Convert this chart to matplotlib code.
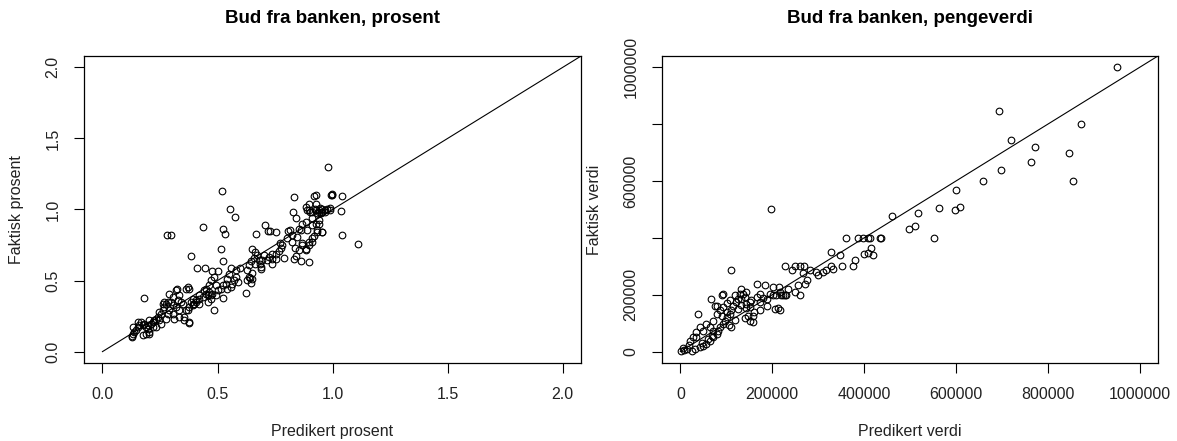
import matplotlib
matplotlib.use("Agg")
import matplotlib.pyplot as plt

plt.rcParams['font.family'] = ['Liberation Sans', 'DejaVu Sans']

# Venstre panel: predikert vs faktisk prosent
pred_prosent = [
    0.52, 0.555, 0.575, 0.435, 0.28, 0.296, 0.522, 0.532, 0.514, 0.522,
    0.383, 0.413, 0.446, 0.478, 0.501, 0.182, 0.484, 0.376, 0.623, 0.646,
    0.652, 0.688, 0.686, 0.666, 0.705, 0.718, 0.73, 0.756, 0.806, 0.831,
    0.826, 0.839, 0.918, 0.926, 0.994, 0.996, 0.998, 1.042, 1.037, 1.042,
    1.11, 0.897, 0.864, 0.832, 0.84, 0.788, 0.767, 0.775, 0.782, 0.771,
    0.736, 0.738, 0.753, 0.979, 0.955, 0.94, 0.933, 0.918, 0.911, 0.897,
    0.883, 0.868, 0.861, 0.89, 0.904, 0.926, 0.94, 0.955, 0.969, 0.991,
    0.948, 0.911, 0.883, 0.897, 0.912, 0.923, 0.934, 0.941, 0.955, 0.967,
    0.977, 0.987, 0.941, 0.926, 0.912, 0.89, 0.934, 0.955, 0.912, 0.897,
    0.883, 0.868, 0.854, 0.847, 0.854, 0.868, 0.825, 0.825, 0.837, 0.803,
    0.814, 0.897, 0.929, 0.944, 0.883, 0.652, 0.662, 0.673, 0.659, 0.645,
    0.637, 0.681, 0.695, 0.702, 0.717, 0.724, 0.736, 0.753, 0.688, 0.663,
    0.64, 0.63, 0.652, 0.579, 0.572, 0.587, 0.565, 0.558, 0.551, 0.543,
    0.536, 0.522, 0.514, 0.50, 0.493, 0.486, 0.471, 0.464, 0.449, 0.522,
    0.543, 0.558, 0.597, 0.579, 0.63, 0.637, 0.442, 0.449, 0.457, 0.464,
    0.471, 0.435, 0.421, 0.406, 0.399, 0.392, 0.384, 0.37, 0.363, 0.374,
    0.322, 0.319, 0.334, 0.327, 0.305, 0.29, 0.283, 0.276, 0.269, 0.262,
    0.254, 0.247, 0.24, 0.233, 0.225, 0.218, 0.211, 0.204, 0.197, 0.189,
    0.182, 0.175, 0.168, 0.16, 0.153, 0.146, 0.139, 0.131, 0.129, 0.134,
    0.153, 0.189, 0.204, 0.218, 0.247, 0.276, 0.305, 0.334, 0.355, 0.37,
    0.392, 0.406, 0.421, 0.348, 0.319, 0.29, 0.269, 0.298, 0.334, 0.356,
    0.374, 0.312, 0.254, 0.233, 0.204, 0.175, 0.197, 0.421, 0.457, 0.471,
    0.478, 0.493, 0.392, 0.377, 0.363, 0.341, 0.305, 0.283, 0.262, 0.13,
]
fakt_prosent = [
    1.13, 1.00, 0.95, 0.88, 0.82, 0.82, 0.86, 0.83, 0.72, 0.64,
    0.67, 0.59, 0.59, 0.57, 0.57, 0.375, 0.29, 0.20, 0.41, 0.48,
    0.55, 0.58, 0.615, 0.83, 0.89, 0.85, 0.85, 0.84, 0.85, 1.085,
    0.98, 0.94, 1.094, 1.10, 1.10, 1.10, 1.11, 1.094, 0.99, 0.82,
    0.76, 0.63, 0.64, 0.65, 0.67, 0.66, 0.71, 0.73, 0.75, 0.765,
    0.615, 0.65, 0.655, 1.297, 0.844, 0.90, 0.856, 0.81, 0.773, 0.75,
    0.715, 0.762, 0.856, 0.996, 0.985, 0.996, 0.996, 0.985, 0.996, 1.008,
    0.973, 0.938, 0.914, 0.995, 0.984, 1.0, 0.972, 0.984, 1.0, 0.984,
    1.007, 0.995, 0.925, 0.901, 0.89, 0.854, 0.843, 0.843, 0.796, 0.772,
    0.725, 0.749, 0.714, 0.808, 0.866, 0.901, 0.819, 0.772, 0.732, 0.796,
    0.859, 1.042, 1.042, 1.014, 1.019, 0.725, 0.70, 0.678, 0.662, 0.638,
    0.608, 0.648, 0.643, 0.678, 0.643, 0.667, 0.69, 0.69, 0.596, 0.62,
    0.521, 0.502, 0.509, 0.526, 0.502, 0.491, 0.479, 0.585, 0.549, 0.514,
    0.479, 0.467, 0.444, 0.432, 0.467, 0.526, 0.502, 0.467, 0.444, 0.38,
    0.444, 0.455, 0.585, 0.573, 0.573, 0.526, 0.432, 0.408, 0.397, 0.42,
    0.397, 0.385, 0.373, 0.362, 0.338, 0.326, 0.35, 0.455, 0.444, 0.444,
    0.439, 0.432, 0.397, 0.362, 0.385, 0.408, 0.35, 0.338, 0.315, 0.291,
    0.268, 0.279, 0.244, 0.232, 0.221, 0.209, 0.197, 0.221, 0.185, 0.174,
    0.197, 0.185, 0.209, 0.185, 0.174, 0.15, 0.138, 0.127, 0.103, 0.174,
    0.209, 0.127, 0.138, 0.174, 0.221, 0.232, 0.268, 0.291, 0.244, 0.291,
    0.338, 0.35, 0.338, 0.338, 0.315, 0.291, 0.35, 0.35, 0.244, 0.221,
    0.209, 0.232, 0.197, 0.174, 0.127, 0.115, 0.162, 0.397, 0.35, 0.373,
    0.408, 0.397, 0.373, 0.315, 0.291, 0.35, 0.326, 0.268, 0.338, 0.11,
]

# Hoyre panel: predikert vs faktisk verdi (kroner)
pred_verdi = [
    950000, 695000, 873000, 719000, 772000, 846000, 763000, 698000, 855000, 660000,
    601000, 598000, 609000, 563000, 517000, 462000, 497000, 510000, 553000, 438000,
    361000, 387000, 398000, 408000, 412000, 434000, 416000, 401000, 408000, 419000,
    329000, 347000, 227000, 249000, 260000, 269000, 244000, 267000, 275000, 271000,
    256000, 249000, 260000, 282000, 296000, 300000, 311000, 318000, 329000, 332000,
    351000, 380000, 376000, 185000, 215000, 235000, 217000, 231000, 195000, 202000,
    209000, 220000, 224000, 227000, 173000, 166000, 155000, 144000, 188000, 206000,
    217000, 213000, 137000, 140000, 133000, 144000, 151000, 158000, 148000, 111000,
    93000, 90000, 66000, 80000, 39000, 126000, 122000, 115000, 111000, 108000,
    101000, 97000, 93000, 86000, 82000, 79000, 72000, 64000, 57000, 50000,
    43000, 32000, 25000, 14000, 1000, 126000, 133000, 151000, 158000, 173000,
    180000, 101000, 90000, 72000, 64000, 50000, 35000, 111000, 28000, 21000,
    35000, 43000, 57000, 72000, 79000, 86000, 93000, 101000, 108000, 119000,
    130000, 144000, 173000, 188000, 202000, 166000, 133000, 151000, 197000, 76000,
    5000, 9000, 18000, 60000, 118000, 140000, 160000, 105000, 68000, 47000,
]
fakt_verdi = [
    1000000, 848000, 802000, 745000, 720000, 698000, 666000, 639000, 599000, 599000,
    567000, 498000, 509000, 504000, 488000, 478000, 431000, 442000, 399000, 400000,
    401000, 401000, 401000, 401000, 398000, 401000, 366000, 345000, 347000, 339000,
    350000, 339000, 300000, 300000, 300000, 300000, 286000, 276000, 253000, 239000,
    233000, 209000, 198000, 286000, 280000, 268000, 280000, 286000, 300000, 292000,
    300000, 321000, 300000, 233000, 227000, 221000, 209000, 198000, 204000, 198000,
    198000, 198000, 198000, 198000, 204000, 192000, 180000, 168000, 159000, 151000,
    148000, 154000, 201000, 192000, 186000, 154000, 109000, 103000, 127000, 288000,
    204000, 198000, 186000, 159000, 133000, 186000, 174000, 162000, 145000, 133000,
    121000, 109000, 98000, 86000, 74000, 62000, 51000, 39000, 27000, 21000,
    15000, 10000, 3500, 8000, 1000, 150000, 165000, 175000, 127000, 145000,
    190000, 140000, 125000, 74000, 86000, 74000, 51000, 86000, 51000, 39000,
    68000, 86000, 98000, 109000, 133000, 145000, 158000, 170000, 180000, 198000,
    204000, 209000, 173000, 186000, 227000, 239000, 221000, 156000, 500000, 162000,
    12000, 5000, 25000, 45000, 112000, 120000, 140000, 95000, 55000, 30000,
]

prosent_ticks = [0.0, 0.5, 1.0, 1.5, 2.0]
prosent_labels = ["0.0", "0.5", "1.0", "1.5", "2.0"]
verdi_ticks = [0, 200000, 400000, 600000, 800000, 1000000]
verdi_labels = ["0", "200000", "400000", "600000", "800000", "1000000"]
# R hopper over y-etiketter som ville overlappet
verdi_ylabels = ["0", "200000", "", "600000", "", "1000000"]

fig = plt.figure(figsize=(11.77, 4.41), dpi=100)
ax1 = fig.add_axes([0.0714, 0.1769, 0.4223, 0.6961])
ax2 = fig.add_axes([0.5624, 0.1769, 0.4214, 0.6961])


def r_stil(ax, ticks, xlabels, ylabels, lim, tittel, xlab, ylab):
    # etterligner R base-grafikk
    ax.set_xlim(lim)
    ax.set_ylim(lim)
    ax.set_xticks(ticks)
    ax.set_xticklabels(xlabels)
    ax.set_yticks(ticks)
    ax.set_yticklabels(ylabels, rotation=90, va='center')
    ax.tick_params(direction='out', length=7, width=0.8, pad=10,
                   labelsize=11.5, colors='black', labelcolor='#222222')
    for s in ax.spines.values():
        s.set_linewidth(0.9)
        s.set_color('black')
    ax.set_title(tittel, fontsize=13.5, fontweight='bold', pad=24)
    ax.set_xlabel(xlab, fontsize=11.5, color='#222222')
    ax.set_ylabel(ylab, fontsize=11.5, color='#222222')
    ax.xaxis.set_label_coords(0.5, -0.2)
    ax.yaxis.set_label_coords(-0.121, 0.5)


#Venstre: prosent
ax1.plot([0, 2.5], [0, 2.5], color='black', linewidth=0.8)
ax1.plot(pred_prosent, fakt_prosent, 'o', ms=4.8, mfc='none', mec='black', mew=0.8)
r_stil(ax1, prosent_ticks, prosent_labels, prosent_labels, (-0.08, 2.08),
       "Bud fra banken, prosent", "Predikert prosent", "Faktisk prosent")

#Hoyre: pengeverdi
ax2.plot([0, 1100000], [0, 1100000], color='black', linewidth=0.8)
ax2.plot(pred_verdi, fakt_verdi, 'o', ms=4.8, mfc='none', mec='black', mew=0.8)
r_stil(ax2, verdi_ticks, verdi_labels, verdi_ylabels, (-40000, 1040000),
       "Bud fra banken, pengeverdi", "Predikert verdi", "Faktisk verdi")

fig.savefig("out.png", dpi=100)
